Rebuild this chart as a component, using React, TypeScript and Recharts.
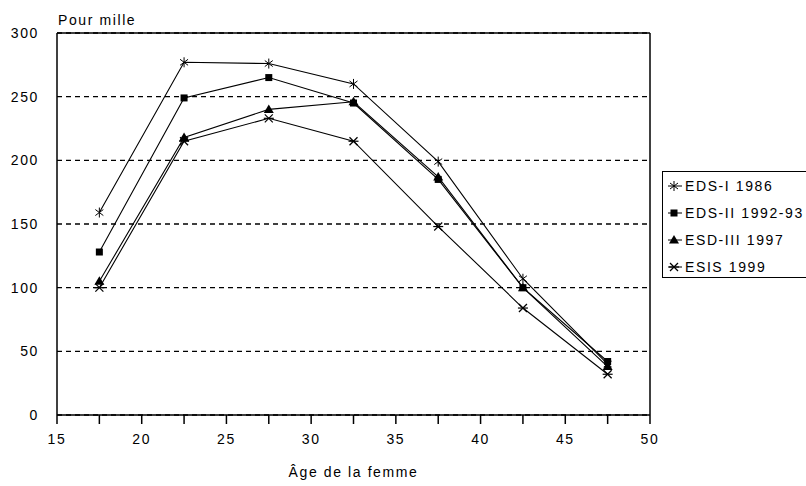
import React from 'react';
import { LineChart, Line, XAxis, YAxis, CartesianGrid, ReferenceLine, Legend } from 'recharts';

// ages (midpoints of 5-year groups)
const ages = [17.5, 22.5, 27.5, 32.5, 37.5, 42.5, 47.5];

const eds1 = [159, 277, 276, 260, 199, 107, 40];
const eds2 = [128, 249, 265, 245, 185, 100, 42];
const esd3 = [105, 218, 240, 246, 187, 100, 38];
const esis = [100, 215, 233, 215, 148, 84, 32];

const xTicks = [15, 17.5, 20, 22.5, 25, 27.5, 30, 32.5, 35, 37.5, 40, 42.5, 45, 47.5, 50];
const yTicks = [0, 50, 100, 150, 200, 250, 300];

const seriesNames = ['EDS-I 1986', 'EDS-II 1992-93', 'ESD-III 1997', 'ESIS 1999'];
const seriesKeys = ['eds1', 'eds2', 'esd3', 'esis'];
const seriesShapes = ['star', 'square', 'triangle', 'cross'];

const data = ages.map((age, i) => ({
  age,
  eds1: eds1[i],
  eds2: eds2[i],
  esd3: esd3[i],
  esis: esis[i],
}));

const FONT = '"Liberation Sans", Arial, sans-serif';
const tickStyle = { fontSize: 14, fill: '#000', fontFamily: FONT, letterSpacing: 1.6 };

const Marker = ({ shape, cx, cy }: { shape: string; cx: number; cy: number }) => {
  const r = 4;
  if (shape === 'star') {
    return (
      <g stroke="#000" strokeWidth={1}>
        <line x1={cx} y1={cy - r - 1} x2={cx} y2={cy + r + 1} />
        <line x1={cx - r} y1={cy - r + 1} x2={cx + r} y2={cy + r - 1} />
        <line x1={cx - r} y1={cy + r - 1} x2={cx + r} y2={cy - r + 1} />
      </g>
    );
  }
  if (shape === 'square') {
    return <rect x={cx - 3.5} y={cy - 3.5} width={7} height={7} fill="#000" />;
  }
  if (shape === 'triangle') {
    return <polygon points={`${cx},${cy - 5} ${cx + 5},${cy + 3.5} ${cx - 5},${cy + 3.5}`} fill="#000" />;
  }
  return (
    <g stroke="#000" strokeWidth={1.2}>
      <line x1={cx - r - 1} y1={cy} x2={cx + r + 1} y2={cy} />
      <line x1={cx - r} y1={cy - r} x2={cx + r} y2={cy + r} />
      <line x1={cx - r} y1={cy + r} x2={cx + r} y2={cy - r} />
    </g>
  );
};

const renderDot = (shape: string) => (props: any) => {
  const { cx, cy, index } = props;
  if (cx == null || cy == null) return <g key={`d-${shape}-${index}`} />;
  return (
    <g key={`d-${shape}-${index}`}>
      <Marker shape={shape} cx={cx} cy={cy} />
    </g>
  );
};

const renderLegend = () => (
  <div>
    {seriesNames.map((name, i) => (
      <div key={name} style={{ display: 'flex', alignItems: 'center', height: 27, whiteSpace: 'nowrap' }}>
        <svg width={16} height={14} style={{ marginRight: 2 }}>
          <line x1={1} y1={7} x2={15} y2={7} stroke="#000" />
          <Marker shape={seriesShapes[i]} cx={7} cy={7} />
        </svg>
        <span style={{ fontSize: 14, fontFamily: FONT, letterSpacing: 1.6, color: '#000' }}>{name}</span>
      </div>
    ))}
  </div>
);

export default function App() {
  return (
    <div style={{ position: 'absolute', left: 0, top: 0, width: 806, height: 486, overflow: 'hidden', background: '#fff' }}>
      <div style={{ position: 'absolute', left: 58, top: 12, fontSize: 14, fontFamily: FONT, letterSpacing: 1.6, color: '#000' }}>
        Pour mille
      </div>
      <LineChart width={806} height={486} data={data} margin={{ top: 33, right: 156, bottom: 0, left: 0 }}>
        <CartesianGrid horizontal vertical={false} stroke="#000" strokeWidth={1.4} strokeDasharray="5 4" />
        <XAxis
          dataKey="age"
          type="number"
          domain={[15, 50]}
          ticks={xTicks}
          interval={0}
          height={71}
          tickSize={9}
          tickMargin={10}
          tickFormatter={(v: number) => (v % 5 === 0 ? String(v) : '')}
          axisLine={{ stroke: '#000', strokeWidth: 1.5 }}
          tickLine={{ stroke: '#000', strokeWidth: 1.5 }}
          tick={tickStyle}
          label={{ value: 'Âge de la femme', position: 'insideBottom', offset: 9, style: { fontSize: 14, fontFamily: FONT, letterSpacing: 1.6, fill: '#000' } }}
        />
        <YAxis
          type="number"
          domain={[0, 300]}
          ticks={yTicks}
          interval={0}
          width={57}
          tickSize={6}
          tickMargin={12}
          tickLine={false}
          axisLine={{ stroke: '#000', strokeWidth: 1.5 }}
          tick={tickStyle}
        />
        <ReferenceLine y={300} stroke="#000" strokeWidth={1.5} />
        <ReferenceLine x={50} stroke="#000" strokeWidth={1.5} />
        {seriesKeys.map((k, i) => (
          <Line
            key={k}
            type="linear"
            dataKey={k}
            name={seriesNames[i]}
            stroke="#000"
            strokeWidth={1.1}
            dot={renderDot(seriesShapes[i])}
            activeDot={false}
            isAnimationActive={false}
          />
        ))}
        <Legend
          layout="vertical"
          align="center"
          verticalAlign="middle"
          content={renderLegend}
          wrapperStyle={{
            position: 'absolute',
            left: 662,
            top: 171,
            width: 170,
            height: 107,
            border: '1.5px solid #000',
            background: '#fff',
            padding: '0 0 0 4px',
            boxSizing: 'border-box',
          }}
        />
      </LineChart>
    </div>
  );
}
